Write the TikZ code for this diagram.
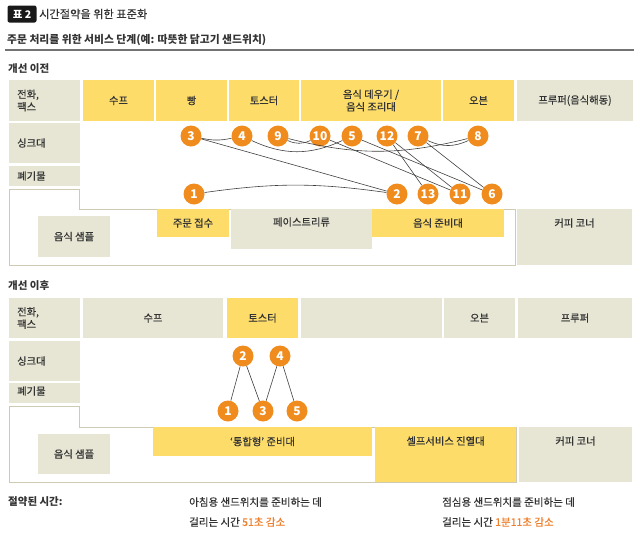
\documentclass[tikz,border=0pt]{standalone}
\usepackage{fontspec}
\setmainfont{Noto Sans CJK KR}
\newfontfamily\medfont[FakeBold=0.35]{Noto Sans CJK KR}
\usetikzlibrary{calc}
\definecolor{ylw}{HTML}{FDDC6A}
\definecolor{bge}{HTML}{E7E5D4}
\definecolor{org}{HTML}{F08C1E}
\definecolor{txt}{HTML}{333333}
\definecolor{outl}{HTML}{CFCBB3}
\definecolor{otxt}{HTML}{EE7F2D}
\newcommand\cellbox[7]{\node[cellsty, fill=#6, minimum width=#4pt, minimum height=#5pt] (#1) at (#2,#3) {#7};}
\tikzset{
  cellsty/.style={anchor=north west, inner sep=0pt, outer sep=0pt, align=center, text=txt},
  lbl/.style={anchor=west, align=left, inner sep=0pt, text=txt},
  toptext/.style={anchor=center, inner sep=0pt, text=txt},
  head/.style={anchor=west, inner sep=0pt, text=txt, font=\fontsize{10.5}{12}\selectfont\bfseries},
  num/.style={circle, fill=org, text=white, inner sep=0pt, minimum size=21pt, font=\fontsize{12}{12}\selectfont\bfseries},
  link/.style={draw=black!75, line width=0.6pt},
  frame/.style={draw=outl, line width=1pt},
  foot/.style={anchor=west, inner sep=0pt, text=txt, font=\medfont\fontsize{10.5}{12}\selectfont},
}
\begin{document}
\begin{tikzpicture}[x=1pt,y=-1pt, font=\medfont\fontsize{10.3}{12.5}\selectfont]
\useasboundingbox (0,0) rectangle (640,536);
% title
\node[fill=black!90, rounded corners=2pt, text=white, inner sep=0pt, minimum width=29pt, minimum height=17pt, font=\fontsize{10.5}{10}\selectfont\bfseries] (tag) at (22,14) {표 2};
\node[anchor=west, inner sep=0pt, text=txt, font=\medfont\fontsize{11.2}{12}\selectfont] (title) at (39,14) {시간절약을 위한 표준화};
\node[anchor=west, inner sep=0pt, text=txt, font=\fontsize{10.8}{12}\selectfont\bfseries] (sub) at (7,40) {주문 처리를 위한 서비스 단계(예: 따뜻한 닭고기 샌드위치)};
\draw[black!55, line width=1.3pt] (5,50) -- (634,50);
% ---------- before ----------
\node[head] (before) at (8,69) {개선 이전};
\draw[frame] (9,189) -- (79,189) -- (79,209) -- (515,209) -- (515,265) -- (9,265) -- cycle;
\cellbox{tphone}{9}{80}{71}{41}{bge}{}
\node[lbl] at ($(tphone.west)+(8,0)$) {전화,\\팩스};
\cellbox{tsoup}{83}{80}{71}{41}{ylw}{수프}
\cellbox{tbread}{156}{80}{71}{41}{ylw}{빵}
\cellbox{ttoast}{229}{80}{70}{41}{ylw}{토스터}
\cellbox{theat}{301}{80}{140}{41}{ylw}{음식 데우기 /\\음식 조리대}
\cellbox{toven}{443}{80}{71}{41}{ylw}{오븐}
\cellbox{tproof}{517}{80}{116}{41}{bge}{프루퍼(음식해동)}
\cellbox{tsink}{9}{123}{71}{40}{bge}{}
\node[lbl] at ($(tsink.west)+(8,0)$) {싱크대};
\cellbox{twaste}{9}{166}{71}{20}{bge}{}
\node[lbl] at ($(twaste.west)+(8,0)$) {폐기물};
\cellbox{tsample}{38}{216}{72}{41}{bge}{음식 샘플}
\cellbox{torder}{157}{209}{72}{28}{ylw}{주문 접수}
\cellbox{tpastry}{231}{209}{141}{40}{bge}{}
\node[toptext] at ($(tpastry.north)+(0,13)$) {페이스트리류};
\cellbox{tprep}{372}{209}{132}{28}{ylw}{음식 준비대}
\cellbox{tcoffee}{517}{209}{115}{56}{bge}{}
\node[toptext] at ($(tcoffee.north)+(0,14)$) {커피 코너};
% circles
\node[num] (a3) at (191,136) {3};
\node[num] (a4) at (242,136) {4};
\node[num] (a9) at (278,136) {9};
\node[num] (a10) at (320,136) {10};
\node[num] (a5) at (352,136) {5};
\node[num] (a12) at (387,136) {12};
\node[num] (a7) at (418,136) {7};
\node[num] (a8) at (478,136) {8};
\node[num] (a1) at (194,194) {1};
\node[num] (a2) at (397,194) {2};
\node[num] (a13) at (428,194) {13};
\node[num] (a11) at (460,194) {11};
\node[num] (a6) at (492,194) {6};
\draw[link] (a1) to[bend left=8] (a2);
\draw[link] (a2) -- (a3);
\draw[link] (a3) to[bend right=12] (a4);
\draw[link] (a4) to[bend right=25] (a5);
\draw[link] (a5) -- (a6);
\draw[link] (a6) -- (a7);
\draw[link] (a7) to[bend right=25] (a8);
\draw[link] (a8) to[bend left=14] (a9);
\draw[link] (a9) to[bend right=25] (a10);
\draw[link] (a10) -- (a11);
\draw[link] (a11) -- (a12);
\draw[link] (a12) -- (a13);
% ---------- after ----------
\node[head] (after) at (8,286) {개선 이후};
\draw[frame] (9,406) -- (79,406) -- (79,427) -- (516,427) -- (516,482) -- (9,482) -- cycle;
\cellbox{bphone}{9}{298}{71}{40}{bge}{}
\node[lbl] at ($(bphone.west)+(8,0)$) {전화,\\팩스};
\cellbox{bsoup}{83}{298}{140}{40}{bge}{수프}
\cellbox{btoast}{227}{298}{71}{40}{ylw}{토스터}
\cellbox{bempty}{301}{298}{141}{40}{bge}{}
\cellbox{boven}{444}{298}{71}{40}{bge}{오븐}
\cellbox{bproof}{518}{298}{114}{40}{bge}{프루퍼}
\cellbox{bsink}{9}{341}{71}{40}{bge}{}
\node[lbl] at ($(bsink.west)+(8,0)$) {싱크대};
\cellbox{bwaste}{9}{383}{71}{20}{bge}{}
\node[lbl] at ($(bwaste.west)+(8,-2)$) {폐기물};
\cellbox{bsample}{38}{434}{72}{40}{bge}{음식 샘플}
\cellbox{bprep}{153}{427}{219}{29}{ylw}{‘통합형’ 준비대}
\cellbox{bself}{375}{427}{141}{55}{ylw}{}
\node[toptext] at ($(bself.north)+(0,14)$) {셀프서비스 진열대};
\cellbox{bcoffee}{519}{427}{113}{55}{bge}{}
\node[toptext] at ($(bcoffee.north)+(0,14)$) {커피 코너};
\node[num] (b2) at (243,356) {2};
\node[num] (b4) at (280,356) {4};
\node[num] (b1) at (228,411) {1};
\node[num] (b3) at (263,411) {3};
\node[num] (b5) at (297,411) {5};
\draw[link] (b1) -- (b2);
\draw[link] (b2) -- (b3);
\draw[link] (b3) -- (b4);
\draw[link] (b4) -- (b5);
% ---------- footer ----------
\node[foot, font=\fontsize{10.5}{12}\selectfont\bfseries] (saved) at (8,502) {절약된 시간:};
\node[foot] (m1) at (189,502) {아침용 샌드위치를 준비하는 데};
\node[foot] (m2) at (189,522) {걸리는 시간 \textcolor{otxt}{51초 감소}};
\node[foot] (l1) at (442,502) {점심용 샌드위치를 준비하는 데};
\node[foot] (l2) at (442,522) {걸리는 시간 \textcolor{otxt}{1분11초 감소}};
\end{tikzpicture}
\end{document}
